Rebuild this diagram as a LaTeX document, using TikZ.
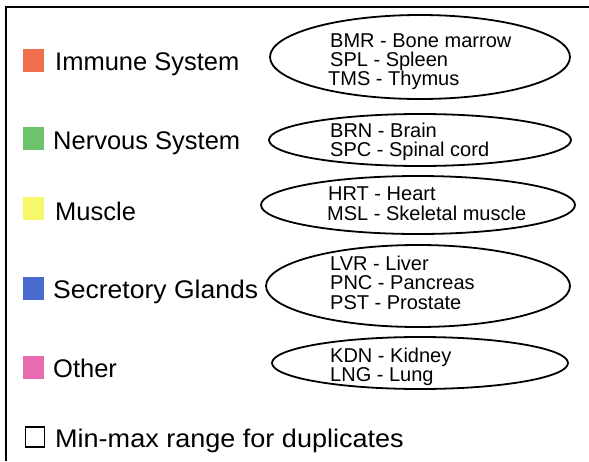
\documentclass[tikz,border=0pt]{standalone}
\usepackage{fontspec}
\setmainfont{Liberation Sans}
\usetikzlibrary{shapes.geometric}
\definecolor{cImm}{HTML}{EE6E4E}
\definecolor{cNer}{HTML}{6CC36C}
\definecolor{cMus}{HTML}{F7F76A}
\definecolor{cSec}{HTML}{4A6ACD}
\definecolor{cOth}{HTML}{E66BB0}
\tikzset{
  swatch/.style={draw=none,fill=#1,minimum width=21pt,minimum height=23pt,inner sep=0pt},
  cat/.style={anchor=base west,inner sep=0pt,font=\fontsize{25.5}{28}\selectfont},
  grp/.style={draw,line width=1.8pt,ellipse,inner sep=0pt},
  item/.style={anchor=base west,inner sep=0pt,font=\fontsize{20}{22}\selectfont},
}
\begin{document}
\begin{tikzpicture}[x=1pt,y=-1pt]
\useasboundingbox (0,0) rectangle (589,461);
\fill[white] (0,0) rectangle (589,461);
% frame
\draw[line width=1.8pt] (589,7) -- (6,7) -- (6,461);
% swatches and category labels
\node[swatch=cImm] (s1) at (33,60) {};
\node[swatch=cNer] (s2) at (33,138.5) {};
\node[swatch=cMus] (s3) at (33,208) {};
\node[swatch=cSec] (s4) at (33,288) {};
\node[swatch=cOth] (s5) at (33,367) {};
\node[cat] (l1) at (55,70) {Immune System};
\node[cat] (l2) at (53,149) {Nervous System};
\node[cat] (l3) at (55,220) {Muscle};
\node[cat] (l4) at (53,298) {\scalebox{1.04}[1]{Secretory Glands}};
\node[cat] (l5) at (53,377) {Other};
% checkbox
\node[draw,line width=1.3pt,minimum width=19pt,minimum height=20pt,inner sep=0pt] (cb) at (35,437) {};
\node[cat] (l6) at (55,447) {\scalebox{1.06}[1]{Min-max range for duplicates}};
% ellipses
\node[grp,minimum width=300pt,minimum height=84pt] (e1) at (420,57) {};
\node[grp,minimum width=302pt,minimum height=52pt] (e2) at (420,140) {};
\node[grp,minimum width=314pt,minimum height=58pt] (e3) at (418,205) {};
\node[grp,minimum width=304pt,minimum height=82pt] (e4) at (418,286) {};
\node[grp,minimum width=296pt,minimum height=52pt] (e5) at (420,363) {};
% items
\node[item] (t11) at (330,47) {BMR - Bone marrow};
\node[item] (t12) at (330,66) {SPL - Spleen};
\node[item] (t13) at (328,85.5) {TMS - Thymus};
\node[item] (t21) at (330,137) {BRN - Brain};
\node[item] (t22) at (330,156) {SPC - Spinal cord};
\node[item] (t31) at (328,200) {HRT - Heart};
\node[item] (t32) at (327,220) {MSL - Skeletal muscle};
\node[item] (t41) at (330,270) {LVR - Liver};
\node[item] (t42) at (330,289.5) {PNC - Pancreas};
\node[item] (t43) at (330,309) {PST - Prostate};
\node[item] (t51) at (330,362) {KDN - Kidney};
\node[item] (t52) at (330,381) {LNG - Lung};
\end{tikzpicture}
\end{document}
